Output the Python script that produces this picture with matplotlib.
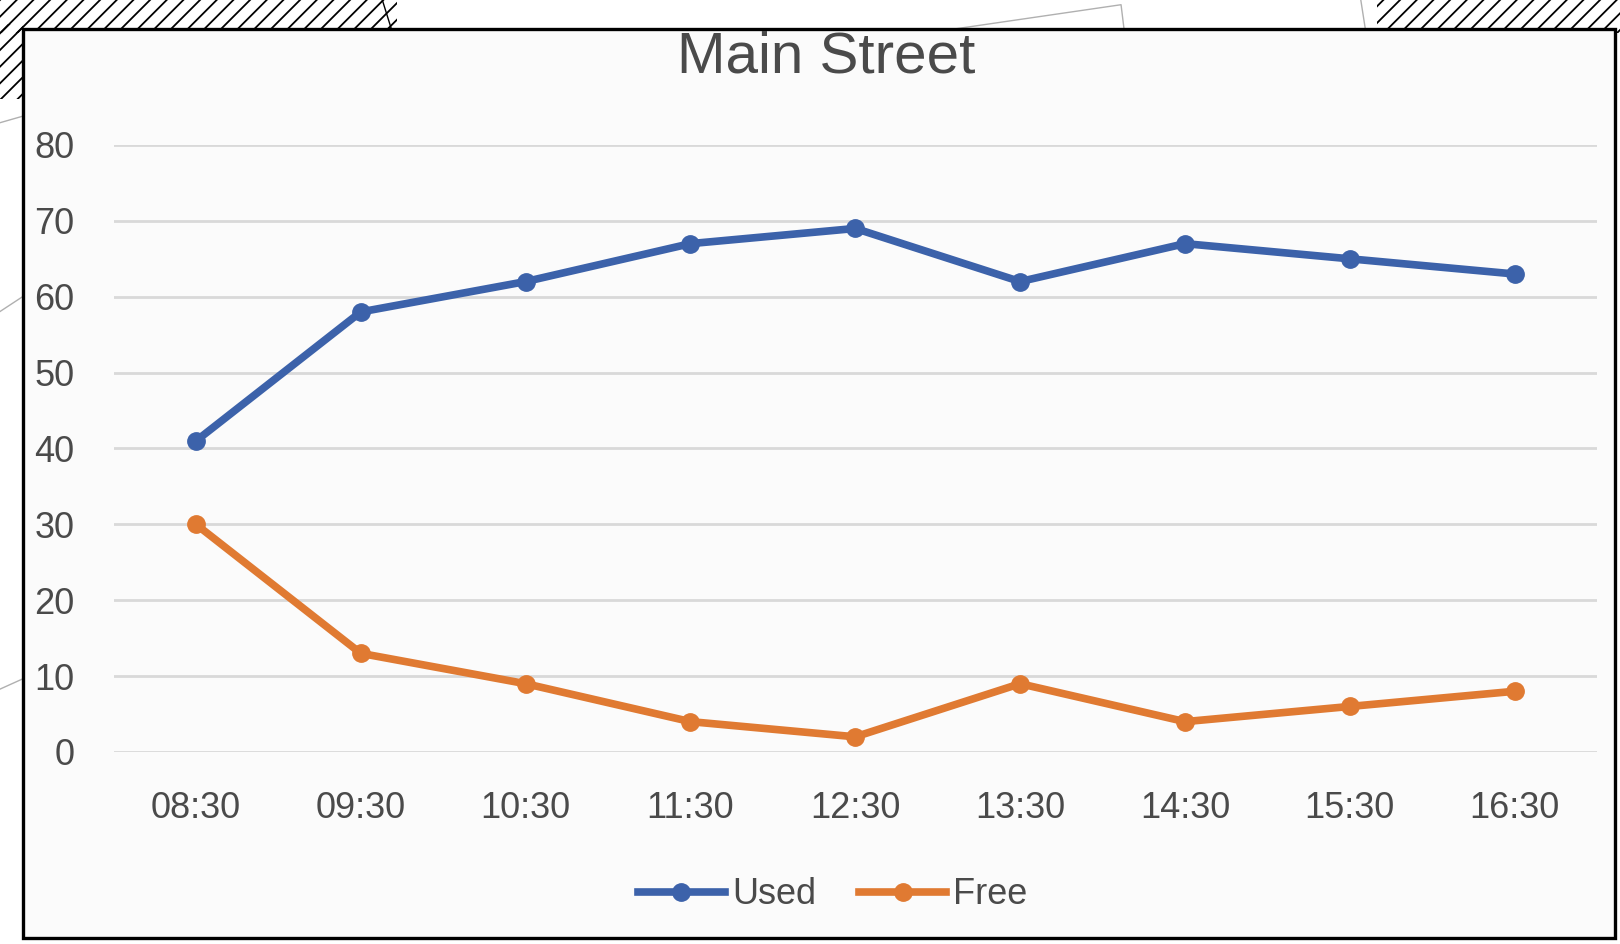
import matplotlib.pyplot as plt
from matplotlib.patches import Rectangle
from matplotlib.lines import Line2D

times = ['08:30', '09:30', '10:30', '11:30', '12:30', '13:30', '14:30', '15:30', '16:30']
used = [41, 58, 62, 67, 69, 62, 67, 65, 63]
free = [30, 13, 9, 4, 2, 9, 4, 6, 8]
yticks = [0, 10, 20, 30, 40, 50, 60, 70, 80]

plt.rcParams['font.family'] = ['Liberation Sans', 'DejaVu Sans']
plt.rcParams['hatch.linewidth'] = 1.3
text_col = '#4a4a4a'
blue = '#3c62aa'
orange = '#e07a32'

fig = plt.figure(figsize=(16.2, 9.44), dpi=100)
fig.patch.set_facecolor('white')

# scanned page leftovers: hatched strips outside the chart frame
for x0, y0, w, h in [(0.0, 0.965, 0.245, 0.04), (0.0, 0.895, 0.0142, 0.08),
                     (0.85, 0.965, 0.15, 0.04)]:
    fig.add_artist(Rectangle((x0, y0), w, h, transform=fig.transFigure, zorder=-10,
                             facecolor='none', edgecolor='black', hatch='//', lw=0))
gray_lines = [([0.236, 0.242], [1.0, 0.967], 'black'),
              ([0.0, 0.0142], [0.87, 0.877], '#b0b0b0'),
              ([0.0, 0.0142], [0.67, 0.686], '#b0b0b0'),
              ([0.0, 0.0142], [0.27, 0.281], '#b0b0b0'),
              ([0.58, 0.692, 0.694], [0.967, 0.995, 0.967], '#b0b0b0'),
              ([0.84, 0.843], [1.0, 0.967], '#b0b0b0')]
for lx, ly, c in gray_lines:
    fig.add_artist(Line2D(lx, ly, transform=fig.transFigure, color=c, lw=1, zorder=-10))

# chart area with black frame
fig.add_artist(Rectangle((0.0142, 0.0064), 0.9827, 0.963, transform=fig.transFigure,
                         facecolor='#fbfbfb', edgecolor='black', lw=2.4, zorder=-5))

ax = fig.add_axes([0.0701, 0.2034, 0.9157, 0.643])
ax.set_facecolor('none')
x = range(len(times))
ax.plot(x, used, color=blue, lw=5.5, marker='o', ms=12.5, label='Used', zorder=3)
ax.plot(x, free, color=orange, lw=5.5, marker='o', ms=12.5, label='Free', zorder=3)

ax.set_xlim(-0.5, len(times) - 0.5)
ax.set_ylim(0, 80)
ax.set_yticks(yticks)
ax.set_xticks(list(x))
ax.set_xticklabels(times)
ax.tick_params(axis='both', length=0, labelsize=26, labelcolor=text_col)
ax.tick_params(axis='y', pad=28)
ax.tick_params(axis='x', pad=28)
ax.grid(axis='y', color='#d9d9d9', lw=2)
ax.set_axisbelow(True)
for s in ax.spines.values():
    s.set_visible(False)

fig.text(0.51, 0.939, 'Main Street', ha='center', va='center', fontsize=42, color=text_col)
fig.legend(loc='center', bbox_to_anchor=(0.514, 0.052), ncol=2, frameon=False,
           fontsize=26, handlelength=2.4, handletextpad=0.2, columnspacing=1.2,
           labelcolor=text_col)

fig.savefig('out.png', dpi=100)
